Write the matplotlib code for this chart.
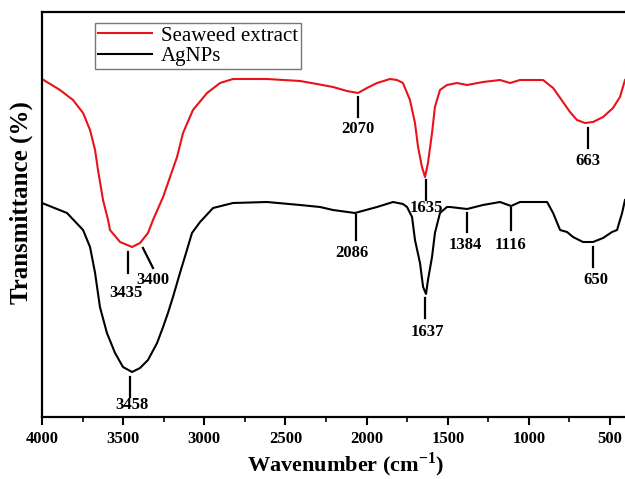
import numpy as np
from matplotlib import pyplot as plt
from matplotlib.ticker import MultipleLocator

# FTIR spectra, transmittance in arbitrary units
wn_seaweed = [4000, 3889, 3809, 3747, 3704, 3673, 3655, 3624, 3593, 3581, 3519,
              3445, 3396, 3347, 3316, 3254, 3211, 3168, 3131, 3070, 2983, 2903,
              2823, 2614, 2410, 2306, 2207, 2121, 2053, 1998, 1936, 1856, 1813,
              1776, 1733, 1702, 1683, 1659, 1640, 1622, 1597, 1579, 1548, 1505,
              1443, 1381, 1283, 1178, 1116, 1055, 913, 851, 790, 747, 704, 654,
              605, 543, 482, 439, 408]
t_seaweed = [338, 327, 317, 304, 287, 267, 247, 217, 197, 187, 175,
             170, 174, 184, 197, 220, 240, 260, 284, 307, 324, 334,
             338, 338, 336, 333, 330, 326, 324, 329, 334, 338, 337,
             334, 317, 294, 270, 250, 240, 254, 284, 310, 327, 332,
             334, 332, 335, 337, 334, 337, 337, 329, 315, 305, 297, 294,
             295, 300, 309, 320, 337]

wn_agnp = [4000, 3846, 3747, 3704, 3673, 3643, 3600, 3550, 3501, 3445, 3396,
           3347, 3291, 3254, 3224, 3193, 3150, 3107, 3076, 3026, 2946, 2823,
           2614, 2410, 2287, 2207, 2072, 1936, 1837, 1776, 1751, 1720, 1702,
           1671, 1652, 1634, 1622, 1597, 1579, 1548, 1505, 1486, 1381, 1283,
           1178, 1110, 1055, 975, 888, 851, 808, 765, 728, 667, 605, 543, 488,
           457, 426, 408]
t_agnp = [214, 204, 187, 170, 144, 110, 84, 64, 50, 45, 49,
          57, 74, 90, 104, 120, 144, 167, 184, 195, 209, 214,
          215, 212, 210, 207, 204, 210, 215, 213, 210, 200, 177,
          154, 130, 123, 137, 160, 184, 204, 210, 210, 208, 212,
          215, 211, 215, 215, 215, 204, 187, 185, 180, 175, 175, 179, 185,
          187, 204, 217]

# peak labels: text, marker line x, y0, y1, label x, label y
peak_labels = ['2070', '1635', '663', '3435', '3458', '2086', '1637', '1384', '1116', '650']
line_x = [2053, 1634, 636, 3470, 3458, 2065, 1640, 1381, 1110, 605]
line_y0 = [320, 237, 289, 165, 40, 202, 119, 204, 209, 170]
line_y1 = [300, 217, 269, 144, 20, 177, 99, 185, 187, 150]
label_x = [2053, 1634, 636, 3482, 3446, 2090, 1628, 1394, 1116, 587]
label_y = [288, 209, 256, 124, 12, 164, 85, 172, 172, 137]

plt.rcParams['font.family'] = ['Liberation Serif', 'DejaVu Serif']
plt.rcParams['mathtext.fontset'] = 'custom'
plt.rcParams['mathtext.rm'] = 'Liberation Serif'
plt.rcParams['mathtext.bf'] = 'Liberation Serif:bold'

fig = plt.figure(figsize=(6.25, 4.79), dpi=100)
ax = fig.add_axes([42 / 625, 1 - 417 / 479, 1 - 42 / 625, 405 / 479])

ax.plot(wn_seaweed, t_seaweed, color='#e8131a', lw=1.5, label='Seaweed extract')
ax.plot(wn_agnp, t_agnp, color='black', lw=1.5, label='AgNPs')

for lab, lx, y0, y1, tx, ty in zip(peak_labels, line_x, line_y0, line_y1, label_x, label_y):
    ax.plot([lx, lx], [y0, y1], color='black', lw=1.6)
    ax.text(tx, ty, lab, ha='center', va='center', fontsize=12, fontweight='bold')

# slanted marker for the 3400 shoulder
ax.plot([3378, 3316], [169, 149], color='black', lw=1.6)
ax.text(3316, 137, '3400', ha='center', va='center', fontsize=12, fontweight='bold')

ax.set_xlim(4000, 408)
ax.set_ylim(0, 405)
ax.xaxis.set_major_locator(MultipleLocator(500))
ax.xaxis.set_minor_locator(MultipleLocator(250))
ax.set_yticks([])
ax.tick_params(axis='x', which='major', direction='out', length=6, width=1.5,
               labelsize=12, top=False, pad=4)
ax.tick_params(axis='x', which='minor', direction='out', length=3.5, width=1.2, top=False)
for lab in ax.get_xticklabels():
    lab.set_fontweight('bold')
for side in ['left', 'bottom', 'top']:
    ax.spines[side].set_linewidth(1.6)
ax.spines['right'].set_visible(False)

ax.set_xlabel(r'Wavenumber (cm$^{\mathbf{-1}}$)', fontsize=16, fontweight='bold')
ax.xaxis.set_label_coords(0.52, -0.082)
ax.set_ylabel('Transmittance (%)', fontsize=18, fontweight='bold')
ax.yaxis.set_label_coords(-0.016, 0.53)

leg = ax.legend(loc='upper left', bbox_to_anchor=(95 / 625, 1 - 23 / 479),
                bbox_transform=fig.transFigure, borderaxespad=0, fontsize=15,
                frameon=True, fancybox=False, edgecolor='#555555', handlelength=2.6,
                borderpad=0.15, labelspacing=0.05, handletextpad=0.4)
leg.get_frame().set_linewidth(1.0)

fig.savefig('out.png', dpi=100)
